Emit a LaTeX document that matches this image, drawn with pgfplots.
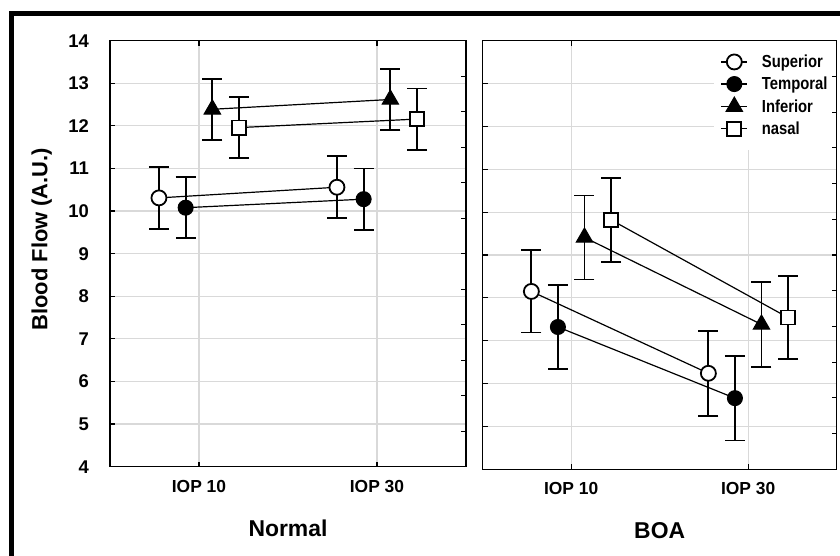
\documentclass[border=0pt]{standalone}
\usepackage{fontspec}
\setmainfont{Liberation Sans}
\newfontfamily\narrowfont[FakeStretch=0.85]{Liberation Sans}
\usepackage{pgfplots}
\pgfplotsset{compat=1.18}

\pgfplotsset{
  panel/.style={
    scale only axis,
    anchor=south west,
    xmin=-0.5, xmax=1.5, ymin=4, ymax=14,
    xtick={0,1}, xticklabels={IOP 10, IOP 30},
    ytick={4,...,14}, ytick pos=left,
    grid=major, grid style={line width=1.2bp, color=gray!30},
    major tick length=5bp, tick align=inside,
    tick style={line width=1.2bp, black},
    axis line style={line width=1.5bp, black},
    /pgf/number format/assume math mode=true,
    xticklabel style={font=\bfseries\fontsize{17.5}{17.5}\selectfont, inner sep=0pt, yshift=-13bp},
    yticklabel style={font=\bfseries\fontsize{18.5}{18.5}\selectfont, inner sep=0pt, xshift=-21bp},
    xlabel style={font=\bfseries\fontsize{23}{23}\selectfont, at={(axis description cs:0.5,0)}, anchor=center, yshift=-61.5bp},
    clip=false,
  },
  rticks/.style={
    scale only axis, anchor=south west,
    xmin=0, xmax=1, ymin=0, ymax=12,
    ytick={1,...,11}, yticklabels={},
    axis y line*=right, hide x axis,
    major tick length=5bp, tick align=inside,
    tick style={line width=1.2bp, black},
    axis line style={line width=1.5bp, black},
  },
  ebar/.style={
    error bars/.cd, y dir=both, y explicit,
    error bar style={line width=1.8bp, black, solid},
    error mark options={line width=1.8bp, black, mark size=10bp, rotate=90},
  },
  sup/.style={black, line width=1.2bp, mark=*, mark size=7.5bp, mark options={fill=white, line width=1.8bp, solid}},
  tem/.style={black, line width=1.2bp, mark=*, mark size=7.5bp, mark options={fill=black, line width=1bp, solid}},
  inf/.style={black, line width=1.2bp, mark=triangle*, mark size=9.5bp, mark options={fill=black, line width=1bp, solid}},
  nas/.style={black, line width=1.2bp, mark=square*, mark size=7bp, mark options={fill=white, line width=1.8bp, solid}},
}

\begin{document}
\begin{tikzpicture}
\path[use as bounding box, fill=white] (0,0) rectangle (840bp,556bp);
% outer frame (top and left)
\fill[black] (9bp,540bp) rectangle (840bp,545bp);
\fill[black] (9bp,0bp) rectangle (14bp,545bp);

% ---------- Normal ----------
\begin{axis}[panel, at={(110bp,89.3bp)}, width=356bp, height=426bp,
  xlabel={Normal},
  ylabel={Blood Flow (A.U.)},
  ylabel style={font=\bfseries\fontsize{22}{22}\selectfont, at={(axis description cs:-0.1918,0.534)}, anchor=center},
]
\addplot+[sup, ebar] coordinates {(-0.225,10.31) +- (0,0.73) (0.775,10.56) +- (0,0.73)};
\addplot+[tem, ebar] coordinates {(-0.075,10.08) +- (0,0.72) (0.925,10.28) +- (0,0.72)};
\addplot+[inf, ebar] coordinates {(0.075,12.39) +- (0,0.72) (1.075,12.62) +- (0,0.72)};
\addplot+[nas, ebar] coordinates {(0.225,11.96) +- (0,0.72) (1.225,12.16) +- (0,0.72)};
\end{axis}
\begin{axis}[rticks, at={(110bp,89.3bp)}, width=356bp, height=426bp]
\addplot[draw=none] coordinates {(0,0)};
\end{axis}

% ---------- BOA ----------
\begin{axis}[panel, at={(482.7bp,86.7bp)}, width=354bp, height=428.6bp,
  xlabel={BOA}, yticklabels={},
  legend style={at={(1,1)}, anchor=north east, draw=none, fill=white,
    font=\narrowfont\bfseries\fontsize{17.5}{17.5}\selectfont,
    inner xsep=7bp, inner ysep=12bp, row sep=4bp,
    /tikz/every odd column/.append style={column sep=12bp}},
  legend cell align=left,
  legend image code/.code={\draw[mark repeat=2, mark phase=2, #1] plot coordinates {(0bp,0bp) (13bp,0bp) (26bp,0bp)};},
]
\addplot+[sup, ebar] coordinates {(-0.225,8.15) +- (0,0.96) (0.775,6.24) +- (0,0.99)};
\addplot+[tem, ebar] coordinates {(-0.075,7.32) +- (0,0.98) (0.925,5.66) +- (0,0.99)};
\addplot+[inf, ebar] coordinates {(0.075,9.41) +- (0,0.98) (1.075,7.38) +- (0,0.99)};
\addplot+[nas, ebar] coordinates {(0.225,9.82) +- (0,0.98) (1.225,7.54) +- (0,0.97)};
\legend{Superior, Temporal, Inferior, nasal}
\end{axis}
\begin{axis}[rticks, at={(482.7bp,86.7bp)}, width=354bp, height=428.6bp]
\addplot[draw=none] coordinates {(0,0)};
\end{axis}
\end{tikzpicture}
\end{document}
